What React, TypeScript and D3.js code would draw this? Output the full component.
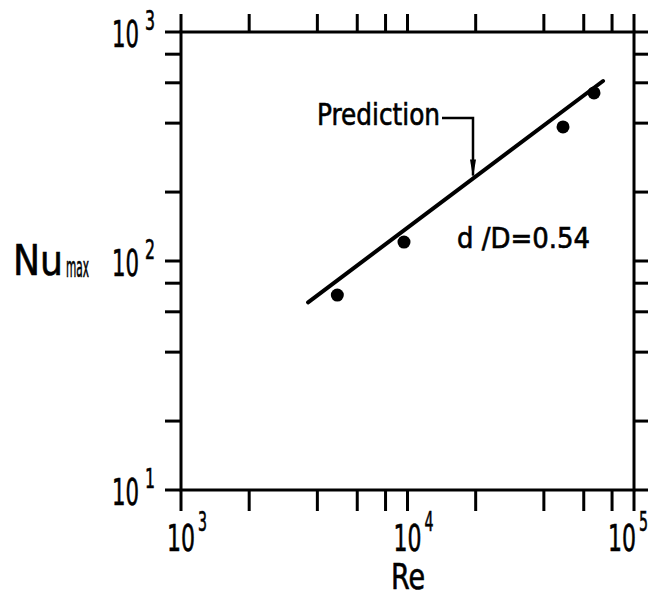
import React from "react";
import * as d3 from "d3";

// Measured maximum Nusselt number versus Reynolds number (d/D = 0.54)
const reynolds = [4900, 9650, 48600, 66600];
const nusselt = [71, 121, 385, 542];

// Predicted correlation, drawn between its two end points
const predictionRe = [3640, 73000];
const predictionNu = [66, 611];

const xDecades = [3, 4, 5];
const yDecades = [1, 2, 3];
const minorMultiples = [2, 4, 6, 8];

const W = 654;
const H = 596;
const FONT = "'Liberation Sans Narrow', 'DejaVu Sans Condensed', 'Liberation Sans', sans-serif";

export default function App() {
  const x = d3.scaleLog().domain([1e3, 1e5]).range([181, 634]);
  const y = d3.scaleLog().domain([10, 1e3]).range([490, 32]);

  const xTicks: number[] = [];
  for (let e = 3; e <= 5; e++) {
    xTicks.push(10 ** e);
    if (e < 5) minorMultiples.forEach((m) => xTicks.push(m * 10 ** e));
  }
  const yTicks: number[] = [];
  for (let e = 1; e <= 3; e++) {
    yTicks.push(10 ** e);
    if (e < 3) minorMultiples.forEach((m) => yTicks.push(m * 10 ** e));
  }

  const [x0, x1] = x.range();
  const [y0, y1] = y.range();

  const line = d3
    .line<number>()
    .x((_, i) => x(predictionRe[i]))
    .y((d) => y(d));

  // leader from the "Prediction" label down to the correlation line
  const leaderX = 473;
  const leaderTop = 118;
  const reAtLeader = x.invert(leaderX);
  const t =
    (Math.log10(reAtLeader) - Math.log10(predictionRe[0])) /
    (Math.log10(predictionRe[1]) - Math.log10(predictionRe[0]));
  const nuAtLeader =
    10 ** (Math.log10(predictionNu[0]) + t * (Math.log10(predictionNu[1]) - Math.log10(predictionNu[0])));
  const leaderBottom = y(nuAtLeader) - 3;

  // keep the last decade label inside the drawing
  const xLabelPos = (e: number) => Math.min(x(10 ** e), W - 32);

  const textStyle = { stroke: "#000", strokeWidth: 0.6 };

  return (
    <svg
      width={W}
      height={H}
      viewBox={`0 0 ${W} ${H}`}
      style={{ position: "absolute", left: 0, top: 0, background: "#fff" }}
      fontFamily={FONT}
    >
      <rect x={0} y={0} width={W} height={H} fill="#fff" />

      {/* frame */}
      <rect x={x0} y={y1} width={x1 - x0} height={y0 - y1} fill="none" stroke="#000" strokeWidth={3} />

      {/* ticks on all four sides, pointing outward */}
      {xTicks.map((v) => (
        <g key={"xt" + v} stroke="#000" strokeWidth={3}>
          <line x1={x(v)} x2={x(v)} y1={y0} y2={y0 + 21} />
          <line x1={x(v)} x2={x(v)} y1={y1} y2={y1 - 18} />
        </g>
      ))}
      {yTicks.map((v) => (
        <g key={"yt" + v} stroke="#000" strokeWidth={3}>
          <line x1={x0} x2={x0 - 16} y1={y(v)} y2={y(v)} />
          <line x1={x1} x2={x1 + 14} y1={y(v)} y2={y(v)} />
        </g>
      ))}

      {/* x decade labels */}
      {xDecades.map((e) => (
        <g key={"xl" + e} fill="#000" style={textStyle}>
          <text x={xLabelPos(e)} y={551} fontSize={38} textAnchor="middle" textLength={28} lengthAdjust="spacingAndGlyphs">
            10
          </text>
          <text x={xLabelPos(e) + 17} y={531} fontSize={26} textLength={9} lengthAdjust="spacingAndGlyphs">
            {e}
          </text>
        </g>
      ))}

      {/* y decade labels */}
      {yDecades.map((e) => (
        <g key={"yl" + e} fill="#000" style={textStyle}>
          <text x={139} y={y(10 ** e) + 15} fontSize={38} textAnchor="end" textLength={27} lengthAdjust="spacingAndGlyphs">
            10
          </text>
          <text x={145} y={y(10 ** e) - 2} fontSize={26} textLength={10} lengthAdjust="spacingAndGlyphs">
            {e}
          </text>
        </g>
      ))}

      {/* axis titles */}
      <text x={408} y={589} fontSize={36} textAnchor="middle" textLength={34} lengthAdjust="spacingAndGlyphs" style={textStyle}>
        Re
      </text>
      <text x={13} y={275} fontSize={42} textLength={50} lengthAdjust="spacingAndGlyphs" style={textStyle}>
        Nu
      </text>
      <text x={66} y={277} fontSize={28} textLength={23} lengthAdjust="spacingAndGlyphs" style={textStyle}>
        max
      </text>

      {/* predicted correlation */}
      <path d={line(predictionNu) ?? ""} fill="none" stroke="#000" strokeWidth={4} strokeLinecap="round" />

      {/* measured points */}
      {reynolds.map((r, i) => (
        <circle key={"p" + i} cx={x(r)} cy={y(nusselt[i])} r={6.5} fill="#000" />
      ))}

      {/* annotation */}
      <text x={317} y={125} fontSize={30} textLength={123} lengthAdjust="spacingAndGlyphs" style={textStyle}>
        Prediction
      </text>
      <path d={`M442,${leaderTop} H${leaderX} V${leaderBottom}`} fill="none" stroke="#000" strokeWidth={2.5} />
      <path
        d={`M${leaderX - 3},${leaderBottom - 16} L${leaderX + 3},${leaderBottom - 16} L${leaderX},${leaderBottom + 2} Z`}
        fill="#000"
      />
      <text x={457} y={248} fontSize={29} textLength={133} lengthAdjust="spacingAndGlyphs" style={textStyle}>
        d /D=0.54
      </text>
    </svg>
  );
}
